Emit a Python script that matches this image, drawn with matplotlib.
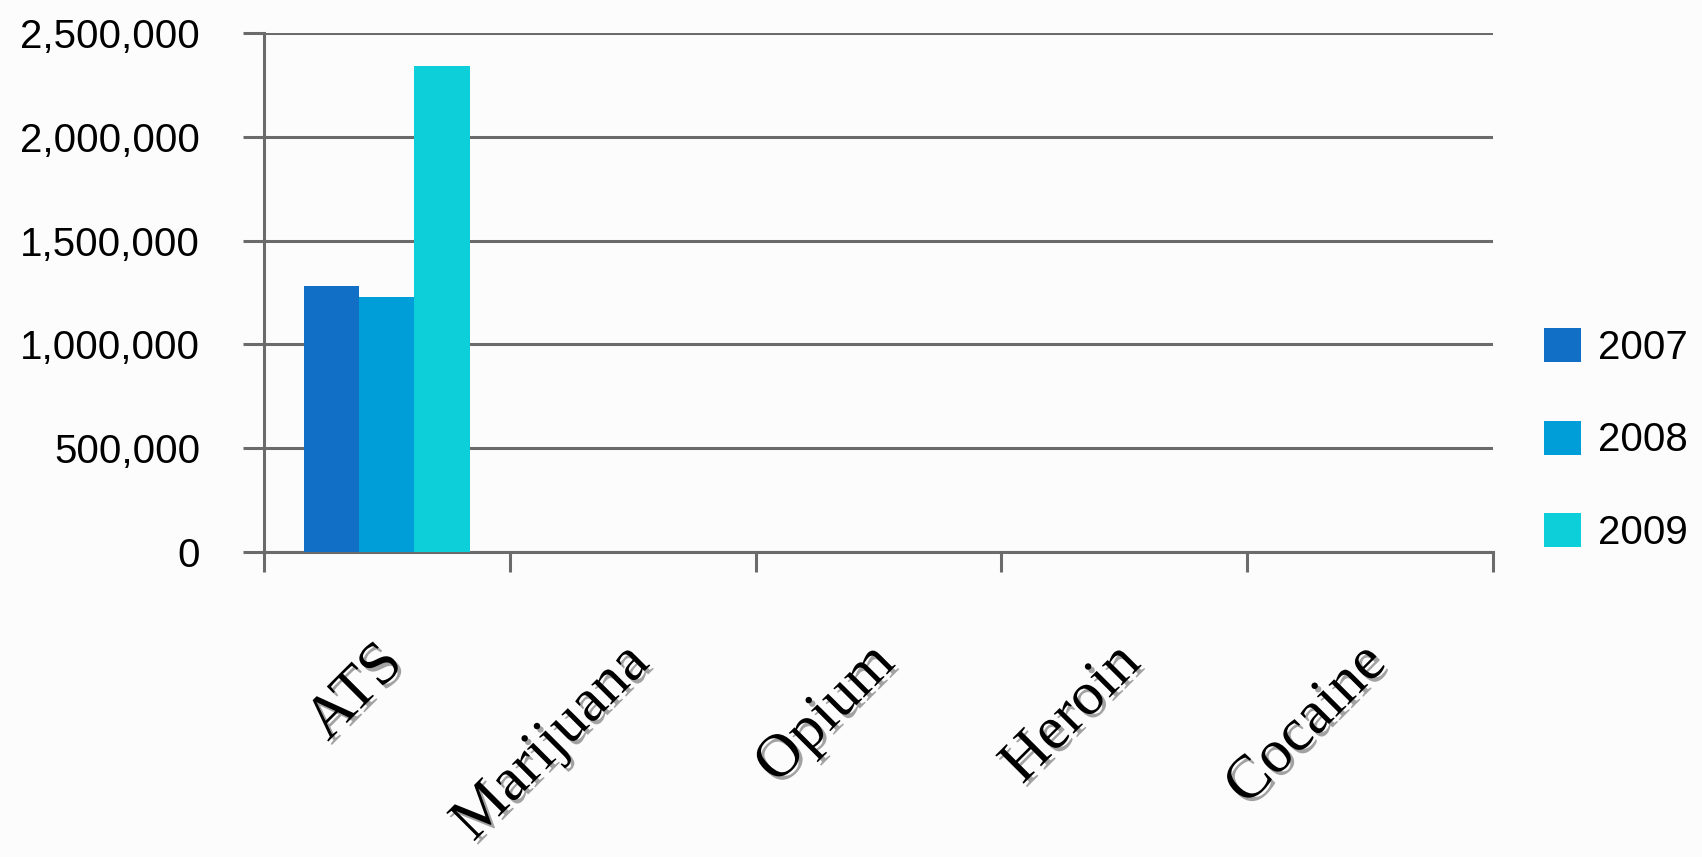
import numpy as np
import matplotlib
matplotlib.use('Agg')
import matplotlib.pyplot as plt
import matplotlib.ticker as ticker
import matplotlib.patheffects as pe
from matplotlib.transforms import ScaledTranslation

# data
categories = ['ATS', 'Marijuana', 'Opium', 'Heroin', 'Cocaine']
years = ['2007', '2008', '2009']
vals_2007 = [1280000, 0, 0, 0, 0]
vals_2008 = [1230000, 0, 0, 0, 0]
vals_2009 = [2340000, 0, 0, 0, 0]
series = [vals_2007, vals_2008, vals_2009]
colors = ['#1170C6', '#009ED8', '#0DCFD9']

grid_c = '#6b6b6b'
bg = '#fcfcfc'

fig = plt.figure(figsize=(17.02, 8.57), dpi=100, facecolor=bg)
ax = fig.add_axes([0.1551, 0.3559, 0.8772 - 0.1551, 0.9615 - 0.3559])
ax.set_facecolor(bg)

x = np.arange(len(categories))
w = 0.2245
for i, (vals, yr) in enumerate(zip(series, years)):
    ax.bar(x + (i - 1) * w, vals, width=w, color=colors[i], label=yr, zorder=3)

ax.set_xlim(-0.5, len(categories) - 0.5)
ax.set_ylim(0, 2500000)
ax.yaxis.set_major_locator(ticker.MultipleLocator(500000))
ax.yaxis.set_major_formatter(ticker.FuncFormatter(lambda v, p: f'{v:,.0f}'))
ax.grid(axis='y', color=grid_c, linewidth=2.2, zorder=0)
ax.set_axisbelow(True)

for s in ['top', 'right']:
    ax.spines[s].set_visible(False)
for s in ['left', 'bottom']:
    ax.spines[s].set_color(grid_c)
    ax.spines[s].set_linewidth(2.2)

ax.tick_params(axis='y', direction='out', length=15, width=2.2, color=grid_c,
               pad=31, labelsize=29, labelcolor='black')
for lab in ax.get_yticklabels():
    lab.set_fontfamily('Liberation Sans')

# category boundary ticks
ax.set_xticks([])
ax.set_xticks(np.arange(len(categories) + 1) - 0.5, minor=True)
ax.tick_params(axis='x', which='minor', direction='out', length=14.4, width=2.2, color=grid_c)

# rotated category labels with shadow
off = ScaledTranslation(18 / 100, -113 / 100, fig.dpi_scale_trans)
for xi, name in zip(x, categories):
    ax.text(xi, 0, name, transform=ax.get_xaxis_transform() + off,
            rotation=45, rotation_mode='anchor', ha='right', va='baseline',
            fontsize=44, family='Liberation Serif', color='black',
            path_effects=[pe.withSimplePatchShadow(offset=(2.5, -2.5), shadow_rgbFace='0.4', alpha=0.6)])

leg = ax.legend(loc='center left', bbox_to_anchor=(0.907, 0.4866), bbox_transform=fig.transFigure,
                frameon=False, borderpad=0, borderaxespad=0, handlelength=0.92, handleheight=0.92,
                handletextpad=0.42, labelspacing=1.34, prop={'family': 'Liberation Sans', 'size': 29})

fig.savefig('out.png', dpi=100, facecolor=bg)
